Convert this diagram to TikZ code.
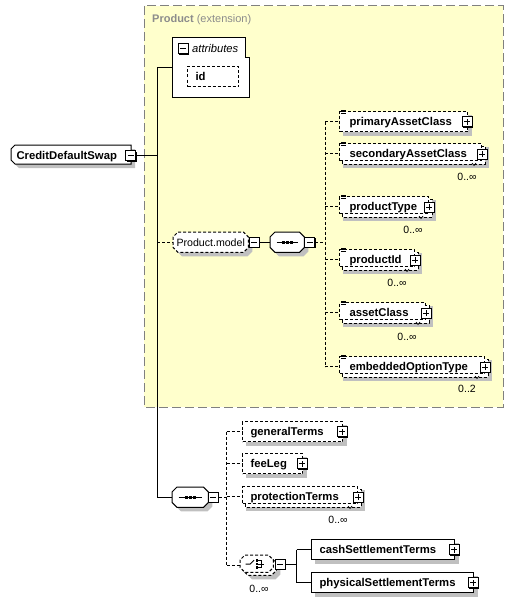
\documentclass[tikz,border=0pt]{standalone}
\usepackage{fontspec}
\setmainfont{Liberation Sans}
\usetikzlibrary{calc,shadows}
\pgfdeclarelayer{bg}
\pgfsetlayers{bg,main}
\definecolor{yel}{HTML}{FFFFCC}
\definecolor{shd}{HTML}{C0C0C0}
\definecolor{txtg}{HTML}{8C8C8C}
\definecolor{brd}{HTML}{808080}
\newcommand\elfont{\fontsize{11.3pt}{13pt}\selectfont\bfseries}
\newcommand\rgfont{\fontsize{10.6pt}{13pt}\selectfont}
\newcommand\lbfont{\fontsize{10.5pt}{12pt}\selectfont}
% octagon around node #1, chamfer #2, offset right #3 / down #4, style #5
\newcommand\octat[5]{%
\path[#5] ([xshift=#2pt+#3pt,yshift=-#4pt]#1.north west) -- ([xshift=-#2pt+#3pt,yshift=-#4pt]#1.north east) -- ([xshift=#3pt,yshift=-#2pt-#4pt]#1.north east) -- ([xshift=#3pt,yshift=#2pt-#4pt]#1.south east) -- ([xshift=-#2pt+#3pt,yshift=-#4pt]#1.south east) -- ([xshift=#2pt+#3pt,yshift=-#4pt]#1.south west) -- ([xshift=#3pt,yshift=#2pt-#4pt]#1.south west) -- ([xshift=#3pt,yshift=-#2pt-#4pt]#1.north west) -- cycle;}
\newcommand\rectat[4]{%
\path[#4] ([xshift=#2pt,yshift=-#3pt]#1.north west) rectangle ([xshift=#2pt,yshift=-#3pt]#1.south east);}
\newcommand\singledeco[1]{\begin{pgfonlayer}{bg}\rectat{#1}{4}{4}{fill=shd}\end{pgfonlayer}}
\newcommand\multideco[2]{%
\begin{pgfonlayer}{bg}
\path[fill=shd] ([xshift=4pt,yshift=-4pt]#1.north west) rectangle ([xshift=7pt,yshift=-7pt]#1.south east);
\rectat{#1}{3}{3}{fill=white,draw,line width=1pt,#2}
\path[draw, line width=0.7pt] ([xshift=-10pt,yshift=-2pt]#1.south east) -- ++(2pt,-2.5pt) -- ++(2pt,2.5pt);
\end{pgfonlayer}}
\newcommand\eqicon[1]{%
\draw[line width=0.7pt] ([xshift=2pt,yshift=1pt]#1.north west) -- ++(4.5pt,0pt);
\draw[line width=0.7pt] ([xshift=2pt,yshift=-0.7pt]#1.north west) -- ++(4.5pt,0pt);
\draw[line width=0.7pt] ([xshift=2pt,yshift=-2.4pt]#1.north west) -- ++(4.5pt,0pt);}
\newcommand\seqicon[1]{%
\draw[line width=1pt] ([xshift=6.5pt]#1.west) -- ([xshift=-6.5pt]#1.east);
\fill ([xshift=-5.5pt,yshift=-1.5pt]#1.center) rectangle ++(3pt,3pt);
\fill ([xshift=-1.5pt,yshift=-1.5pt]#1.center) rectangle ++(3pt,3pt);
\fill ([xshift=2.5pt,yshift=-1.5pt]#1.center) rectangle ++(3pt,3pt);}
\tikzset{
 elem/.style={draw, fill=white, line width=1pt, anchor=north west, inner ysep=0pt, inner xsep=8pt, minimum height=20pt, text height=9pt, text depth=1pt, align=left, font=\elfont},
 kid/.style={elem, inner xsep=10pt},
 mult/.style={minimum height=17pt, text height=11pt, text depth=0pt},
 opt/.style={dash pattern=on 3pt off 2pt},
 conn/.style={line width=1pt},
 cdash/.style={line width=1pt, dash pattern=on 3pt off 2pt},
 pmb/.style={draw, fill=white, line width=1pt, minimum size=10pt, inner sep=0pt, drop shadow={shadow xshift=1pt, shadow yshift=-1pt, fill=black, opacity=1}},
 minusbox/.style={pmb, path picture={\draw[line width=1pt] ([xshift=2pt]path picture bounding box.west) -- ([xshift=-2pt]path picture bounding box.east);}},
 plusbox/.style={pmb, path picture={\draw[line width=1pt] ([xshift=2pt]path picture bounding box.west) -- ([xshift=-2pt]path picture bounding box.east); \draw[line width=1pt] ([yshift=2pt]path picture bounding box.south) -- ([yshift=-2pt]path picture bounding box.north);}},
 lbl/.style={font=\lbfont, inner sep=0pt},
 comp/.style={anchor=north west, minimum height=20pt, inner sep=0pt},
}
\begin{document}
\begin{tikzpicture}[x=1pt,y=-1pt]
\useasboundingbox (0,0) rectangle (513,602);
% extension area
\begin{pgfonlayer}{bg}
\filldraw[fill=yel, draw=brd, line width=1pt, dash pattern=on 9pt off 4pt] (144,6) rectangle (503,407);
\end{pgfonlayer}
\node[anchor=base west, inner sep=0pt, text=txtg, font=\fontsize{11pt}{13pt}\selectfont] (ext) at (152,23) {\textbf{Product} (extension)};

% root
\node[elem, draw=none, fill=none, inner xsep=5pt, text width=109pt, minimum height=18pt, text height=10pt, text depth=0pt] (root) at (11,145) {CreditDefaultSwap};
\begin{pgfonlayer}{bg}
\fill[shd] ([xshift=8pt,yshift=-4pt]root.north west) -- ([xshift=4pt,yshift=-4pt]root.north east) -- ([xshift=4pt,yshift=-4pt]root.south east) -- ([xshift=8pt,yshift=-4pt]root.south west) -- ([xshift=4pt,yshift=0pt]root.south west) -- ([xshift=4pt,yshift=-8pt]root.north west) -- cycle;
\filldraw[fill=white, line width=1pt] ([xshift=4pt]root.north west) -- (root.north east) -- (root.south east) -- ([xshift=4pt]root.south west) -- ([yshift=4pt]root.south west) -- ([yshift=-4pt]root.north west) -- cycle;
\end{pgfonlayer}
\node[minusbox] (rootpm) at ([xshift=-0.5pt,yshift=-1pt]root.east) {};

% attributes
\filldraw[fill=white, line width=1pt] (172,38) -- (245,38) -- (245,58) -- (249,58) -- (249,97) -- (172,97) -- cycle;
\coordinate (attl) at (172,68);
\node[minusbox] (attpm) at (183,49) {};
\node[anchor=base west, inner sep=0pt, font=\fontsize{11.2pt}{13pt}\selectfont\itshape] (atttxt) at (192,52.5) {attributes};
\node[elem, opt, text width=35pt] (id) at (187,66) {id};
\singledeco{id}

% Product.model group and sequence
\node[comp, minimum width=75pt, font=\rgfont, text height=8.6pt, text depth=1pt] (pmod) at (173,232) {Product.model};
\node[comp, minimum width=34pt] (s1) at (270,232) {};
\begin{pgfonlayer}{bg}
\octat{pmod}{5}{4}{4}{fill=shd}
\octat{pmod}{5}{0}{0}{fill=white,draw,line width=1pt,opt}
\octat{s1}{5}{4}{4}{fill=shd}
\octat{s1}{5}{0}{0}{fill=white,draw,line width=1pt}
\end{pgfonlayer}
\seqicon{s1}
\node[minusbox] (pmodpm) at ([xshift=6pt]pmod.east) {};
\node[minusbox] (s1pm) at ([xshift=5.5pt]s1.east) {};

% product children
\node[kid, opt, text width=108pt] (pAC) at (339,111) {primaryAssetClass};
\singledeco{pAC}
\node[kid, opt, mult, text width=122pt] (sAC) at (339,143) {secondaryAssetClass};
\multideco{sAC}{opt}
\node[kid, opt, mult, text width=69pt] (pT) at (339,196) {productType};
\multideco{pT}{opt}
\node[kid, opt, mult, text width=55pt] (pId) at (339,249) {productId};
\multideco{pId}{opt}
\node[kid, opt, mult, text width=66pt] (aC) at (339,302) {assetClass};
\multideco{aC}{opt}
\node[kid, opt, mult, text width=125pt] (eOT) at (339,356) {embeddedOptionType};
\multideco{eOT}{opt}
\eqicon{pAC}\eqicon{sAC}\eqicon{pT}\eqicon{pId}\eqicon{aC}\eqicon{eOT}
\node[plusbox] (pACpm) at ([xshift=-1pt]pAC.east) {};
\node[plusbox] (sACpm) at ([yshift=-2pt]sAC.east) {};
\node[plusbox] (pTpm) at ([yshift=-2pt]pT.east) {};
\node[plusbox] (pIdpm) at ([yshift=-2pt]pId.east) {};
\node[plusbox] (aCpm) at ([yshift=-2pt]aC.east) {};
\node[plusbox] (eOTpm) at ([yshift=-2pt]eOT.east) {};
\node[lbl] (sACl) at (467,177) {0..∞};
\node[lbl] (pTl) at (413,230) {0..∞};
\node[lbl] (pIdl) at (397,283) {0..∞};
\node[lbl] (aCl) at (407,337) {0..∞};
\node[lbl] (eOTl) at (467,389) {0..2};

% bottom sequence
\node[comp, minimum width=36pt] (s2) at (172,487) {};
\node[comp, minimum width=33pt, minimum height=17pt] (ch) at (240,555) {};
\begin{pgfonlayer}{bg}
\octat{s2}{5}{4}{4}{fill=shd}
\octat{s2}{5}{0}{0}{fill=white,draw,line width=1pt}
\octat{ch}{5}{4}{4}{fill=shd}
\octat{ch}{5}{7}{7}{fill=shd}
\octat{ch}{5}{3}{3}{fill=white,draw,line width=1pt,opt}
\octat{ch}{5}{0}{0}{fill=white,draw,line width=1pt,opt}
\end{pgfonlayer}
\seqicon{s2}
% choice icon
\draw[line width=1pt] ($(ch.west)+(5.5,0.5)$) -- ($(ch.west)+(10,0.5)$) -- ($(ch.west)+(14,-3.5)$);
\fill ($(ch.west)+(15.5,-4.5)$) rectangle ($(ch.west)+(18,-2)$);
\fill ($(ch.west)+(15.5,-1)$) rectangle ($(ch.west)+(18,1.5)$);
\fill ($(ch.west)+(15.5,2.5)$) rectangle ($(ch.west)+(18,5)$);
\draw[line width=0.8pt] ($(ch.west)+(18,-3.2)$) -- ($(ch.west)+(21,-3.2)$) -- ($(ch.west)+(21,3.8)$) -- ($(ch.west)+(18,3.8)$);
\draw[line width=0.8pt] ($(ch.west)+(18,0.3)$) -- ($(ch.west)+(24,0.3)$);
\node[minusbox] (s2pm) at ([xshift=5pt]s2.east) {};
\node[minusbox] (chpm) at ([xshift=7pt,yshift=-0.5pt]ch.east) {};
\node[lbl] (chl) at (259,589) {0..∞};

\node[elem, opt, text width=84pt] (gT) at (242,421) {generalTerms};
\singledeco{gT}
\node[elem, opt, text width=44pt] (fL) at (242,453) {feeLeg};
\singledeco{fL}
\node[elem, opt, mult, text width=99pt] (prT) at (242,486) {protectionTerms};
\multideco{prT}{opt}
\node[lbl] (prTl) at (338,520) {0..∞};
\node[elem, text width=127pt] (cST) at (311,539) {cashSettlementTerms};
\singledeco{cST}
\node[elem, text width=146pt] (pST) at (311,572) {physicalSettlementTerms};
\singledeco{pST}
\node[plusbox] (gTpm) at ([xshift=-1pt]gT.east) {};
\node[plusbox] (fLpm) at ([xshift=-1pt]fL.east) {};
\node[plusbox] (prTpm) at ([yshift=-2pt]prT.east) {};
\node[plusbox] (cSTpm) at ([xshift=-1pt]cST.east) {};
\node[plusbox] (pSTpm) at ([xshift=-1pt]pST.east) {};

% connectors
\coordinate (tj) at (157,155);
\draw[conn] (rootpm.east) -- (tj |- rootpm.east);
\draw[conn] (attl) -| (tj |- s2.west) -- (s2.west);
\draw[cdash] (tj |- pmod.west) -- (pmod.west);
\draw[conn] (pmodpm.east) -- (s1.west);
\draw[cdash] (s1pm.east) -- ++(10,0) coordinate (v1);
\coordinate (sACc) at ([yshift=-1.5pt]sAC.west);
\coordinate (pTc) at ([yshift=-1.5pt]pT.west);
\coordinate (pIdc) at ([yshift=-1.5pt]pId.west);
\coordinate (aCc) at ([yshift=-1.5pt]aC.west);
\coordinate (eOTc) at ([yshift=-1.5pt]eOT.west);
\draw[cdash] (v1 |- pAC.west) -- (v1 |- eOTc);
\draw[cdash] (v1 |- pAC.west) -- (pAC.west);
\draw[cdash] (v1 |- sACc) -- (sACc);
\draw[cdash] (v1 |- pTc) -- (pTc);
\draw[cdash] (v1 |- pIdc) -- (pIdc);
\draw[cdash] (v1 |- aCc) -- (aCc);
\draw[cdash] (v1 |- eOTc) -- (eOTc);

\draw[cdash] (s2pm.east) -- ++(8,0) coordinate (v2);
\coordinate (prTc) at ([yshift=-1.5pt]prT.west);
\coordinate (chc) at ([yshift=-1.5pt]ch.west);
\draw[cdash] (v2 |- gT.west) -- (v2 |- chc);
\draw[cdash] (v2 |- gT.west) -- (gT.west);
\draw[cdash] (v2 |- fL.west) -- (fL.west);
\draw[cdash] (v2 |- prTc) -- (prTc);
\draw[cdash] (v2 |- chc) -- (chc);

\draw[conn] (chpm.east) -- ++(11,0) coordinate (v3);
\draw[conn] (v3 |- cST.west) -- (v3 |- pST.west);
\draw[conn] (v3 |- cST.west) -- (cST.west);
\draw[conn] (v3 |- pST.west) -- (pST.west);
\end{tikzpicture}
\end{document}
